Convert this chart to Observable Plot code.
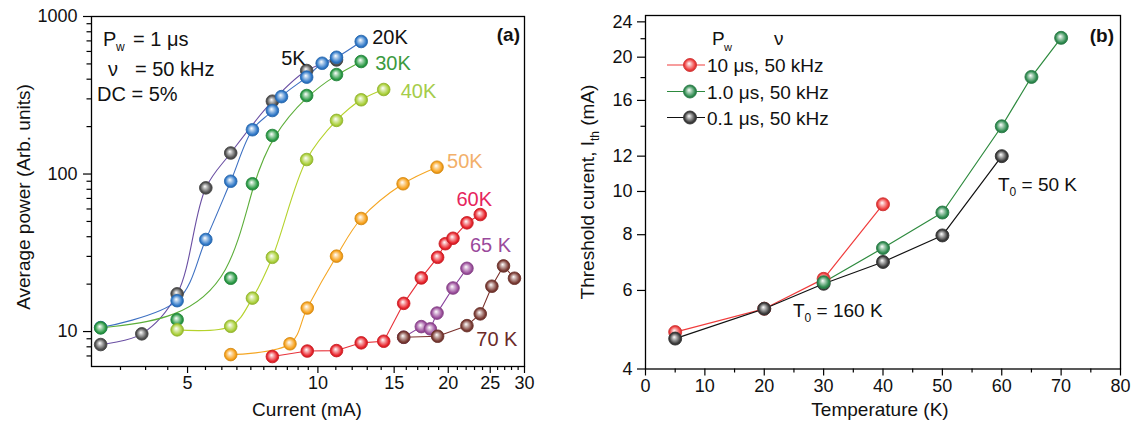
<!DOCTYPE html>
<html><head><meta charset="utf-8">
<script src="https://cdn.jsdelivr.net/npm/d3@7"></script>
<script src="https://cdn.jsdelivr.net/npm/@observablehq/plot@0.6"></script>
<style>
body{margin:0;background:#fff;}
#wrap{display:flex;width:1135px;height:428px;overflow:hidden;}
#wrap svg{overflow:visible;display:block;}
</style></head><body><div id="wrap"></div>
<script>
// ---------- Panel (a): average power vs current (log-log) ----------
const seriesNamesA = ["5K", "20K", "30K", "40K", "50K", "60K", "65 K", "70 K"];
const current5K  = [3.15, 3.92, 4.73, 5.51, 6.29, 7.85, 9.42, 11.04];
const power5K    = [8.27, 9.67, 17.35, 81.7, 136, 290, 454, 530];
const current20K = [3.15, 4.73, 5.51, 6.29, 7.06, 7.85, 8.24, 9.42, 10.23, 11.04, 12.59];
const power20K   = [10.6, 15.7, 38.4, 90, 191, 253, 310, 412, 505, 551, 694];
const current30K = [3.15, 4.73, 6.29, 7.06, 7.85, 9.42, 11.04, 12.59];
const power30K   = [10.55, 11.9, 21.8, 86.7, 175.6, 315, 428, 518];
const current40K = [4.73, 6.29, 7.06, 7.85, 9.42, 11.04, 12.59, 14.19];
const power40K   = [10.25, 10.8, 16.3, 29.6, 123.6, 219, 296, 344];
const current50K = [6.29, 8.62, 9.45, 11.04, 12.59, 15.73, 18.84];
const power50K   = [7.14, 8.36, 14.1, 30.1, 52.2, 86.7, 110.5];
const current60K = [7.85, 9.45, 11.04, 12.59, 14.19, 15.78, 17.33, 18.9, 19.69, 20.51, 22.09, 23.71];
const power60K   = [6.94, 7.52, 7.57, 8.48, 8.68, 15.1, 21.9, 29.6, 36.1, 39.1, 49.0, 55.3];
const current65K = [15.78, 17.33, 18.18, 18.84, 20.51, 22.09];
const power65K   = [9.2, 10.75, 10.4, 13.1, 18.9, 25.2];
const current70K = [15.78, 18.9, 22.09, 23.71, 25.22, 26.83, 28.44];
const power70K   = [9.2, 9.34, 10.9, 12.95, 19.4, 26.1, 21.8];

const ticksAx = [5, 10, 15, 20, 25, 30];
const minorAx = [3.5, 4, 4.5, 5.5, 6, 6.5, 7, 7.5, 8, 8.5, 9, 9.5, 11, 12, 13, 14, 16, 17, 18, 19, 21, 22, 23, 24, 26, 27, 28, 29];
const ticksAy = [10, 100, 1000];
const minorAy = [7, 8, 9, 20, 30, 40, 50, 60, 70, 80, 90, 200, 300, 400, 500, 600, 700, 800, 900];

// ---------- Panel (b): threshold current vs temperature ----------
const legendB = ["10 \u03bcs, 50 kHz", "1.0 \u03bcs, 50 kHz", "0.1 \u03bcs, 50 kHz"];
const tempRed   = [5, 20, 30, 40];
const ithRed    = [4.84, 5.46, 6.37, 9.36];
const tempGreen = [30, 40, 50, 60, 65, 70];
const ithGreen  = [6.26, 7.47, 8.97, 14.0, 18.06, 22.1];
const tempBlack = [5, 20, 30, 40, 50, 60];
const ithBlack  = [4.68, 5.46, 6.21, 6.95, 7.97, 12.0];
const ticksBx = [0, 10, 20, 30, 40, 50, 60, 70, 80];
const minorBx = [5, 15, 25, 35, 45, 55, 65, 75];
const ticksBy = [4, 6, 8, 10, 12, 16, 20, 24];
const minorBy = [14, 18, 22];

// ---------- styles ----------
const FONT = 'Arial, "Liberation Sans", Helvetica, sans-serif';
const styleA = [
  {line: "#6a4fa3", dot: "#4f4f4f", label: "#111111", curve: "catmull-rom"},
  {line: "#3d70c2", dot: "#2f78c8", label: "#111111", curve: "catmull-rom"},
  {line: "#5cae3a", dot: "#2a9a45", label: "#3b9a3e", curve: "basis"},
  {line: "#b5d22c", dot: "#a9cf38", label: "#a5cc4a", curve: "catmull-rom"},
  {line: "#f5a623", dot: "#f7a11a", label: "#f2b06a", curve: "catmull-rom"},
  {line: "#e8323a", dot: "#e8232b", label: "#e6245c", curve: "linear"},
  {line: "#8a449e", dot: "#9a4d9b", label: "#9a4a9c", curve: "linear"},
  {line: "#7a302b", dot: "#7a3a33", label: "#6b2a28", curve: "linear"}
];
// label placement: index of anchor point, pixel offsets
const labelPlaceA = [
  {idx: 6, dx: -1, dy: -12, anchor: "end"},
  {idx: 10, dx: 11, dy: -4, anchor: "start"},
  {idx: 7, dx: 14, dy: 2, anchor: "start"},
  {idx: 7, dx: 17, dy: 2, anchor: "start"},
  {idx: 6, dx: 10, dy: -6, anchor: "start"},
  {idx: 11, dx: -6, dy: -15, anchor: "middle"},
  {idx: 5, dx: 3, dy: -23, anchor: "start"},
  {idx: 6, dx: 3, dy: 61, anchor: "end"}
];
const styleB = [
  {line: "#f03c3c", dot: "#ee3b3b"},
  {line: "#2d8a3e", dot: "#2e8b4f"},
  {line: "#111111", dot: "#3a3a3a"}
];

const seriesA = [
  [current5K, power5K], [current20K, power20K], [current30K, power30K], [current40K, power40K],
  [current50K, power50K], [current60K, power60K], [current65K, power65K], [current70K, power70K]
].map(([I, P], k) => ({name: seriesNamesA[k], rows: I.map((v, i) => ({I: v, P: P[i]})), ...styleA[k]}));

const seriesB = [[tempRed, ithRed], [tempGreen, ithGreen], [tempBlack, ithBlack]]
  .map(([T, I], k) => ({name: legendB[k], rows: T.map((v, i) => ({T: v, I: I[i]})), ...styleB[k]}));

function addGradients(svg, prefix, colors) {
  const defs = d3.select(svg).insert("defs", ":first-child");
  colors.forEach((c, i) => {
    const g = defs.append("radialGradient").attr("id", prefix + i)
      .attr("cx", "0.5").attr("cy", "0.5").attr("r", "0.5").attr("fx", "0.42").attr("fy", "0.38");
    g.append("stop").attr("offset", "0").attr("stop-color", "#ffffff");
    g.append("stop").attr("offset", "0.4").attr("stop-color", d3.interpolateRgb(c, "#ffffff")(0.5));
    g.append("stop").attr("offset", "0.82").attr("stop-color", c);
    g.append("stop").attr("offset", "1").attr("stop-color", d3.color(c).darker(0.5).formatHex());
  });
}

const axisCommon = {label: null, stroke: "#000", strokeWidth: 1.2, fontSize: 18, fill: "#111"};

// ---------- build panel (a) ----------
const marksA = [];
seriesA.forEach(s => marksA.push(Plot.line(s.rows, {x: "I", y: "P", stroke: s.line, strokeWidth: 1.1, curve: s.curve})));
seriesA.forEach((s, k) => marksA.push(Plot.dot(s.rows, {x: "I", y: "P", r: 6.3, fill: `url(#gA${k})`,
  stroke: d3.color(s.dot).darker(0.35).formatHex(), strokeWidth: 0.9})));
seriesA.forEach((s, k) => {
  const p = labelPlaceA[k];
  marksA.push(Plot.text([s.rows[p.idx]], {x: "I", y: "P", text: () => s.name, dx: p.dx, dy: p.dy,
    textAnchor: p.anchor, fill: s.label, fontSize: 20}));
});
marksA.push(
  Plot.axisX({...axisCommon, ticks: ticksAx, tickFormat: d => String(d), tickSize: 7, tickPadding: 3}),
  Plot.axisX({...axisCommon, ticks: minorAx, tickFormat: () => "", tickSize: 4}),
  Plot.axisY({...axisCommon, ticks: ticksAy, tickFormat: d => String(d), tickSize: 8, tickPadding: 6}),
  Plot.axisY({...axisCommon, ticks: minorAy, tickFormat: () => "", tickSize: 4.5}),
  Plot.frame({stroke: "#000", strokeWidth: 1.3})
);
const plotA = Plot.plot({
  width: 560, height: 428,
  marginLeft: 91, marginRight: 36, marginTop: 16, marginBottom: 62,
  x: {type: "log", domain: [3, 30]},
  y: {type: "log", domain: [6, 1000]},
  style: {fontFamily: FONT, fontSize: "18px", background: "white", color: "#111", overflow: "visible"},
  marks: marksA
});
addGradients(plotA, "gA", seriesA.map(s => s.dot));

// ---------- build panel (b) ----------
const marksB = [];
seriesB.forEach(s => marksB.push(Plot.line(s.rows, {x: "T", y: "I", stroke: s.line, strokeWidth: 1.2})));
[0, 2, 1].forEach(k => {
  const s = seriesB[k];
  marksB.push(Plot.dot(s.rows, {x: "T", y: "I", r: 6.5, fill: `url(#gB${k})`,
    stroke: d3.color(s.dot).darker(0.35).formatHex(), strokeWidth: 0.9}));
});
marksB.push(
  Plot.axisX({...axisCommon, ticks: ticksBx, tickFormat: d => String(d), tickSize: 7, tickPadding: 3}),
  Plot.axisX({...axisCommon, ticks: minorBx, tickFormat: () => "", tickSize: 4}),
  Plot.axisY({...axisCommon, ticks: ticksBy, tickFormat: d => String(d), tickSize: 8, tickPadding: 5}),
  Plot.axisY({...axisCommon, ticks: minorBy, tickFormat: () => "", tickSize: 4.5}),
  Plot.frame({stroke: "#000", strokeWidth: 1.3})
);
const plotB = Plot.plot({
  width: 575, height: 428,
  marginLeft: 85, marginRight: 15, marginTop: 15, marginBottom: 59.5,
  x: {type: "linear", domain: [0, 80]},
  y: {type: "log", domain: [4, 24.8]},
  style: {fontFamily: FONT, fontSize: "18px", background: "white", color: "#111", overflow: "visible"},
  marks: marksB
});
addGradients(plotB, "gB", seriesB.map(s => s.dot));

const wrap = document.getElementById("wrap");
wrap.appendChild(plotA);
wrap.appendChild(plotB);

// ---------- annotations (text with sub-scripts) ----------
function txt(sel, x, y, size, opts = {}) {
  return sel.append("text").attr("x", x).attr("y", y).attr("font-size", size)
    .attr("font-family", FONT).attr("fill", opts.fill || "#111")
    .attr("font-weight", opts.bold ? "bold" : null)
    .attr("text-anchor", opts.anchor || "start");
}
const sa = d3.select(plotA);
const ga = sa.append("g");
txt(ga, 103, 46, 20).text("P");
txt(ga, 116, 51, 12).text("w");
txt(ga, 133, 46, 20).text("= 1 \u03bcs");
txt(ga, 108, 76, 20).text("\u03bd");
txt(ga, 135, 76, 20).text("= 50 kHz");
txt(ga, 97, 101, 20).text("DC = 5%");
txt(ga, 520, 41, 19, {bold: true, anchor: "end"}).text("(a)");
txt(ga, 307, 416, 19, {anchor: "middle"}).text("Current (mA)");
txt(ga, 0, 0, 19, {anchor: "middle"}).attr("transform", "translate(30,197) rotate(-90)").text("Average power (Arb. units)");

const sb = d3.select(plotB);
const gb = sb.append("g");
txt(gb, 554, 42, 19, {bold: true, anchor: "end"}).text("(b)");
txt(gb, 320, 416, 19, {anchor: "middle"}).text("Temperature (K)");
const ty = txt(gb, 0, 0, 19, {anchor: "middle"}).attr("transform", "translate(34,192) rotate(-90)");
ty.append("tspan").text("Threshold curent, I");
ty.append("tspan").attr("font-size", 12).attr("dy", 5).text("th");
ty.append("tspan").attr("dy", -5).text(" (mA)");
// legend header
txt(gb, 152, 45, 19).text("P");
txt(gb, 164, 51, 11).text("w");
txt(gb, 214, 45, 19).text("\u03bd");
// legend rows
const rowY = [65, 91.5, 117.5];
seriesB.forEach((s, k) => {
  gb.append("line").attr("x1", 107).attr("x2", 145).attr("y1", rowY[k]).attr("y2", rowY[k])
    .attr("stroke", s.line).attr("stroke-width", 1.2);
  gb.append("circle").attr("cx", 130).attr("cy", rowY[k]).attr("r", 6.5)
    .attr("fill", `url(#gB${k})`).attr("stroke", d3.color(s.dot).darker(0.35).formatHex()).attr("stroke-width", 0.9);
  txt(gb, 147, rowY[k] + 7, 19).text(s.name);
});
// T0 annotations
const t1 = txt(gb, 438, 191, 19);
t1.append("tspan").text("T");
t1.append("tspan").attr("font-size", 12).attr("dy", 5).text("0");
t1.append("tspan").attr("dy", -5).text(" = 50 K");
const t2 = txt(gb, 233, 317, 19);
t2.append("tspan").text("T");
t2.append("tspan").attr("font-size", 12).attr("dy", 5).text("0");
t2.append("tspan").attr("dy", -5).text(" = 160 K");
</script></body></html>
